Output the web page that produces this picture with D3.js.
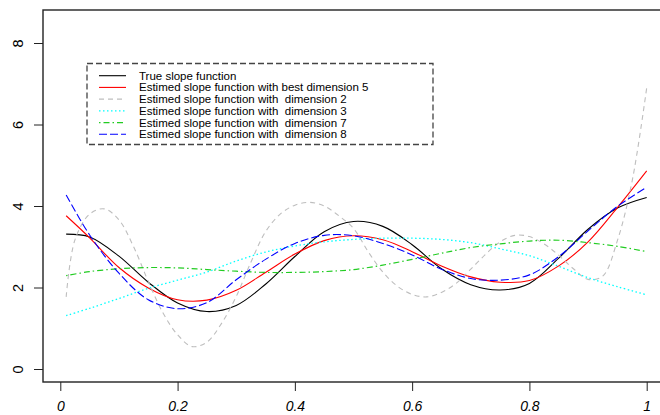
<!DOCTYPE html>
<html>
<head>
<meta charset="utf-8">
<script src="https://cdn.jsdelivr.net/npm/d3@7"></script>
<style>
  body { margin: 0; background: #fff; }
  svg { font-family: "Liberation Sans", Arial, sans-serif; }
</style>
</head>
<body>
<div id="chart"></div>
<script>
// grid of t values for the smooth estimates
var tGrid = [0.01, 0.05, 0.10, 0.15, 0.20, 0.25, 0.30, 0.35, 0.40, 0.45, 0.50,
             0.55, 0.60, 0.65, 0.70, 0.75, 0.80, 0.85, 0.90, 0.95, 1.00];
// finer grid for the wiggly dimension 2 curve
var tFine = [0.01, 0.025, 0.05, 0.075, 0.10, 0.125, 0.15, 0.175, 0.20, 0.225, 0.25,
             0.275, 0.30, 0.325, 0.35, 0.375, 0.40, 0.425, 0.45, 0.475, 0.50,
             0.525, 0.55, 0.575, 0.60, 0.625, 0.65, 0.675, 0.70, 0.725, 0.75,
             0.775, 0.80, 0.825, 0.85, 0.875, 0.90, 0.925, 0.95, 0.975, 1.00];

var trueSlope = [3.31, 3.24, 2.77, 2.13, 1.62, 1.41, 1.56, 2.08, 2.76, 3.37, 3.62,
                 3.50, 3.05, 2.46, 2.07, 1.94, 2.10, 2.72, 3.43, 3.95, 4.21];
var bestDim5 = [3.76, 3.22, 2.49, 1.99, 1.70, 1.69, 1.93, 2.37, 2.82, 3.15, 3.27,
                3.17, 2.88, 2.53, 2.26, 2.13, 2.17, 2.53, 3.12, 3.96, 4.86];
var dim2 = [1.77, 3.17, 3.80, 3.93, 3.66, 3.00, 2.15, 1.38, 0.84, 0.55, 0.66,
            1.12, 1.78, 2.62, 3.37, 3.80, 4.02, 4.09, 4.00, 3.76, 3.45,
            2.88, 2.38, 2.03, 1.83, 1.77, 1.88, 2.10, 2.45, 2.81, 3.12,
            3.28, 3.25, 3.07, 2.79, 2.46, 2.20, 2.28, 3.15, 4.60, 6.90];
var dim3 = [1.31, 1.49, 1.73, 1.98, 2.18, 2.38, 2.65, 2.87, 3.02, 3.12, 3.18,
            3.21, 3.21, 3.18, 3.10, 2.95, 2.78, 2.52, 2.24, 2.02, 1.82];
var dim7 = [2.29, 2.39, 2.46, 2.49, 2.48, 2.44, 2.40, 2.37, 2.37, 2.39, 2.44,
            2.55, 2.69, 2.84, 2.98, 3.07, 3.14, 3.16, 3.10, 3.01, 2.88];
var dim8 = [4.27, 3.29, 2.35, 1.70, 1.48, 1.63, 2.19, 2.69, 3.08, 3.28, 3.27,
            3.08, 2.80, 2.45, 2.22, 2.18, 2.31, 2.76, 3.39, 3.99, 4.46];

var xTicks = [0, 0.2, 0.4, 0.6, 0.8, 1];
var xTickLabels = ["0", "0.2", "0.4", "0.6", "0.8", "1"];
var yTicks = [0, 2, 4, 6, 8];

var legendLabels = [
    "True slope function",
    "Estimed slope function with best dimension 5",
    "Estimed slope function with  dimension 2",
    "Estimed slope function with  dimension 3",
    "Estimed slope function with  dimension 7",
    "Estimed slope function with  dimension 8"
];

var series = [
    { t: tGrid, v: trueSlope, color: "#000000", dash: null, w: 1.1 },
    { t: tGrid, v: bestDim5, color: "#ff0000", dash: null, w: 1.1 },
    { t: tFine, v: dim2, color: "#bebebe", dash: "5,4", w: 1.1 },
    { t: tGrid, v: dim3, color: "#00ffff", dash: "1.5,2.5", w: 1.3 },
    { t: tGrid, v: dim7, color: "#22cc22", dash: "1.5,3,6,3", w: 1.2 },
    { t: tGrid, v: dim8, color: "#0000ff", dash: "8,3", w: 1.1 }
];

var width = 660, height = 415;
var box = { left: 43, right: 670, top: 10, bottom: 382 };

var svg = d3.select("#chart").append("svg")
    .attr("width", width)
    .attr("height", height);

var x = d3.scaleLinear().domain([0, 1]).range([60.3, 646.7]);
var y = d3.scaleLinear().domain([0, 8]).range([369, 43]);

// curves
var line = d3.line()
    .x(function(d) { return x(d[0]); })
    .y(function(d) { return y(d[1]); })
    .curve(d3.curveCatmullRom.alpha(0.5));

series.forEach(function(s) {
    var pts = s.t.map(function(t, i) { return [t, s.v[i]]; });
    svg.append("path")
        .attr("d", line(pts))
        .attr("fill", "none")
        .attr("stroke", s.color)
        .attr("stroke-width", s.w)
        .attr("stroke-dasharray", s.dash);
});

// frame
svg.append("rect")
    .attr("x", box.left)
    .attr("y", box.top)
    .attr("width", box.right - box.left)
    .attr("height", box.bottom - box.top)
    .attr("fill", "none")
    .attr("stroke", "#222")
    .attr("stroke-width", 1.4);

// x axis
var xAxis = d3.axisBottom(x)
    .tickValues(xTicks)
    .tickSize(9)
    .tickPadding(10)
    .tickFormat(function(d, i) { return xTickLabels[i]; });
var gx = svg.append("g")
    .attr("transform", "translate(0," + box.bottom + ")")
    .call(xAxis);
gx.select(".domain").remove();
gx.selectAll("line").attr("stroke", "#222");
gx.selectAll("text")
    .attr("font-size", 14)
    .attr("font-style", "italic")
    .attr("fill", "#000")
    .attr("font-family", "Liberation Sans, Arial, sans-serif");

// y axis
var yAxis = d3.axisLeft(y)
    .tickValues(yTicks)
    .tickSize(9)
    .tickFormat(d3.format("d"));
var gy = svg.append("g")
    .attr("transform", "translate(" + box.left + ",0)")
    .call(yAxis);
gy.select(".domain").remove();
gy.selectAll("line").attr("stroke", "#222");
gy.selectAll("text")
    .attr("x", null)
    .attr("dy", null)
    .attr("text-anchor", "middle")
    .attr("dominant-baseline", "central")
    .attr("transform", "translate(-25.5,0) rotate(-90)")
    .attr("font-size", 14.5)
    .attr("fill", "#000")
    .attr("font-family", "Liberation Sans, Arial, sans-serif");

// legend
var lg = svg.append("g");
lg.append("rect")
    .attr("x", 87)
    .attr("y", 63.5)
    .attr("width", 346)
    .attr("height", 81)
    .attr("fill", "#fff")
    .attr("stroke", "#444")
    .attr("stroke-width", 1.3)
    .attr("stroke-dasharray", "6,3");

var rows = lg.selectAll(".row")
    .data(series)
    .enter()
    .append("g")
    .attr("transform", function(d, i) { return "translate(0," + (75.7 + i * 11.72) + ")"; });

rows.append("line")
    .attr("x1", 99)
    .attr("x2", 126)
    .attr("stroke", function(d) { return d.color; })
    .attr("stroke-width", function(d) { return d.w; })
    .attr("stroke-dasharray", function(d) { return d.dash; });

rows.append("text")
    .attr("x", 139)
    .attr("dominant-baseline", "central")
    .attr("font-size", 11.5)
    .style("white-space", "pre")
    .text(function(d, i) { return legendLabels[i]; });
</script>
</body>
</html>
